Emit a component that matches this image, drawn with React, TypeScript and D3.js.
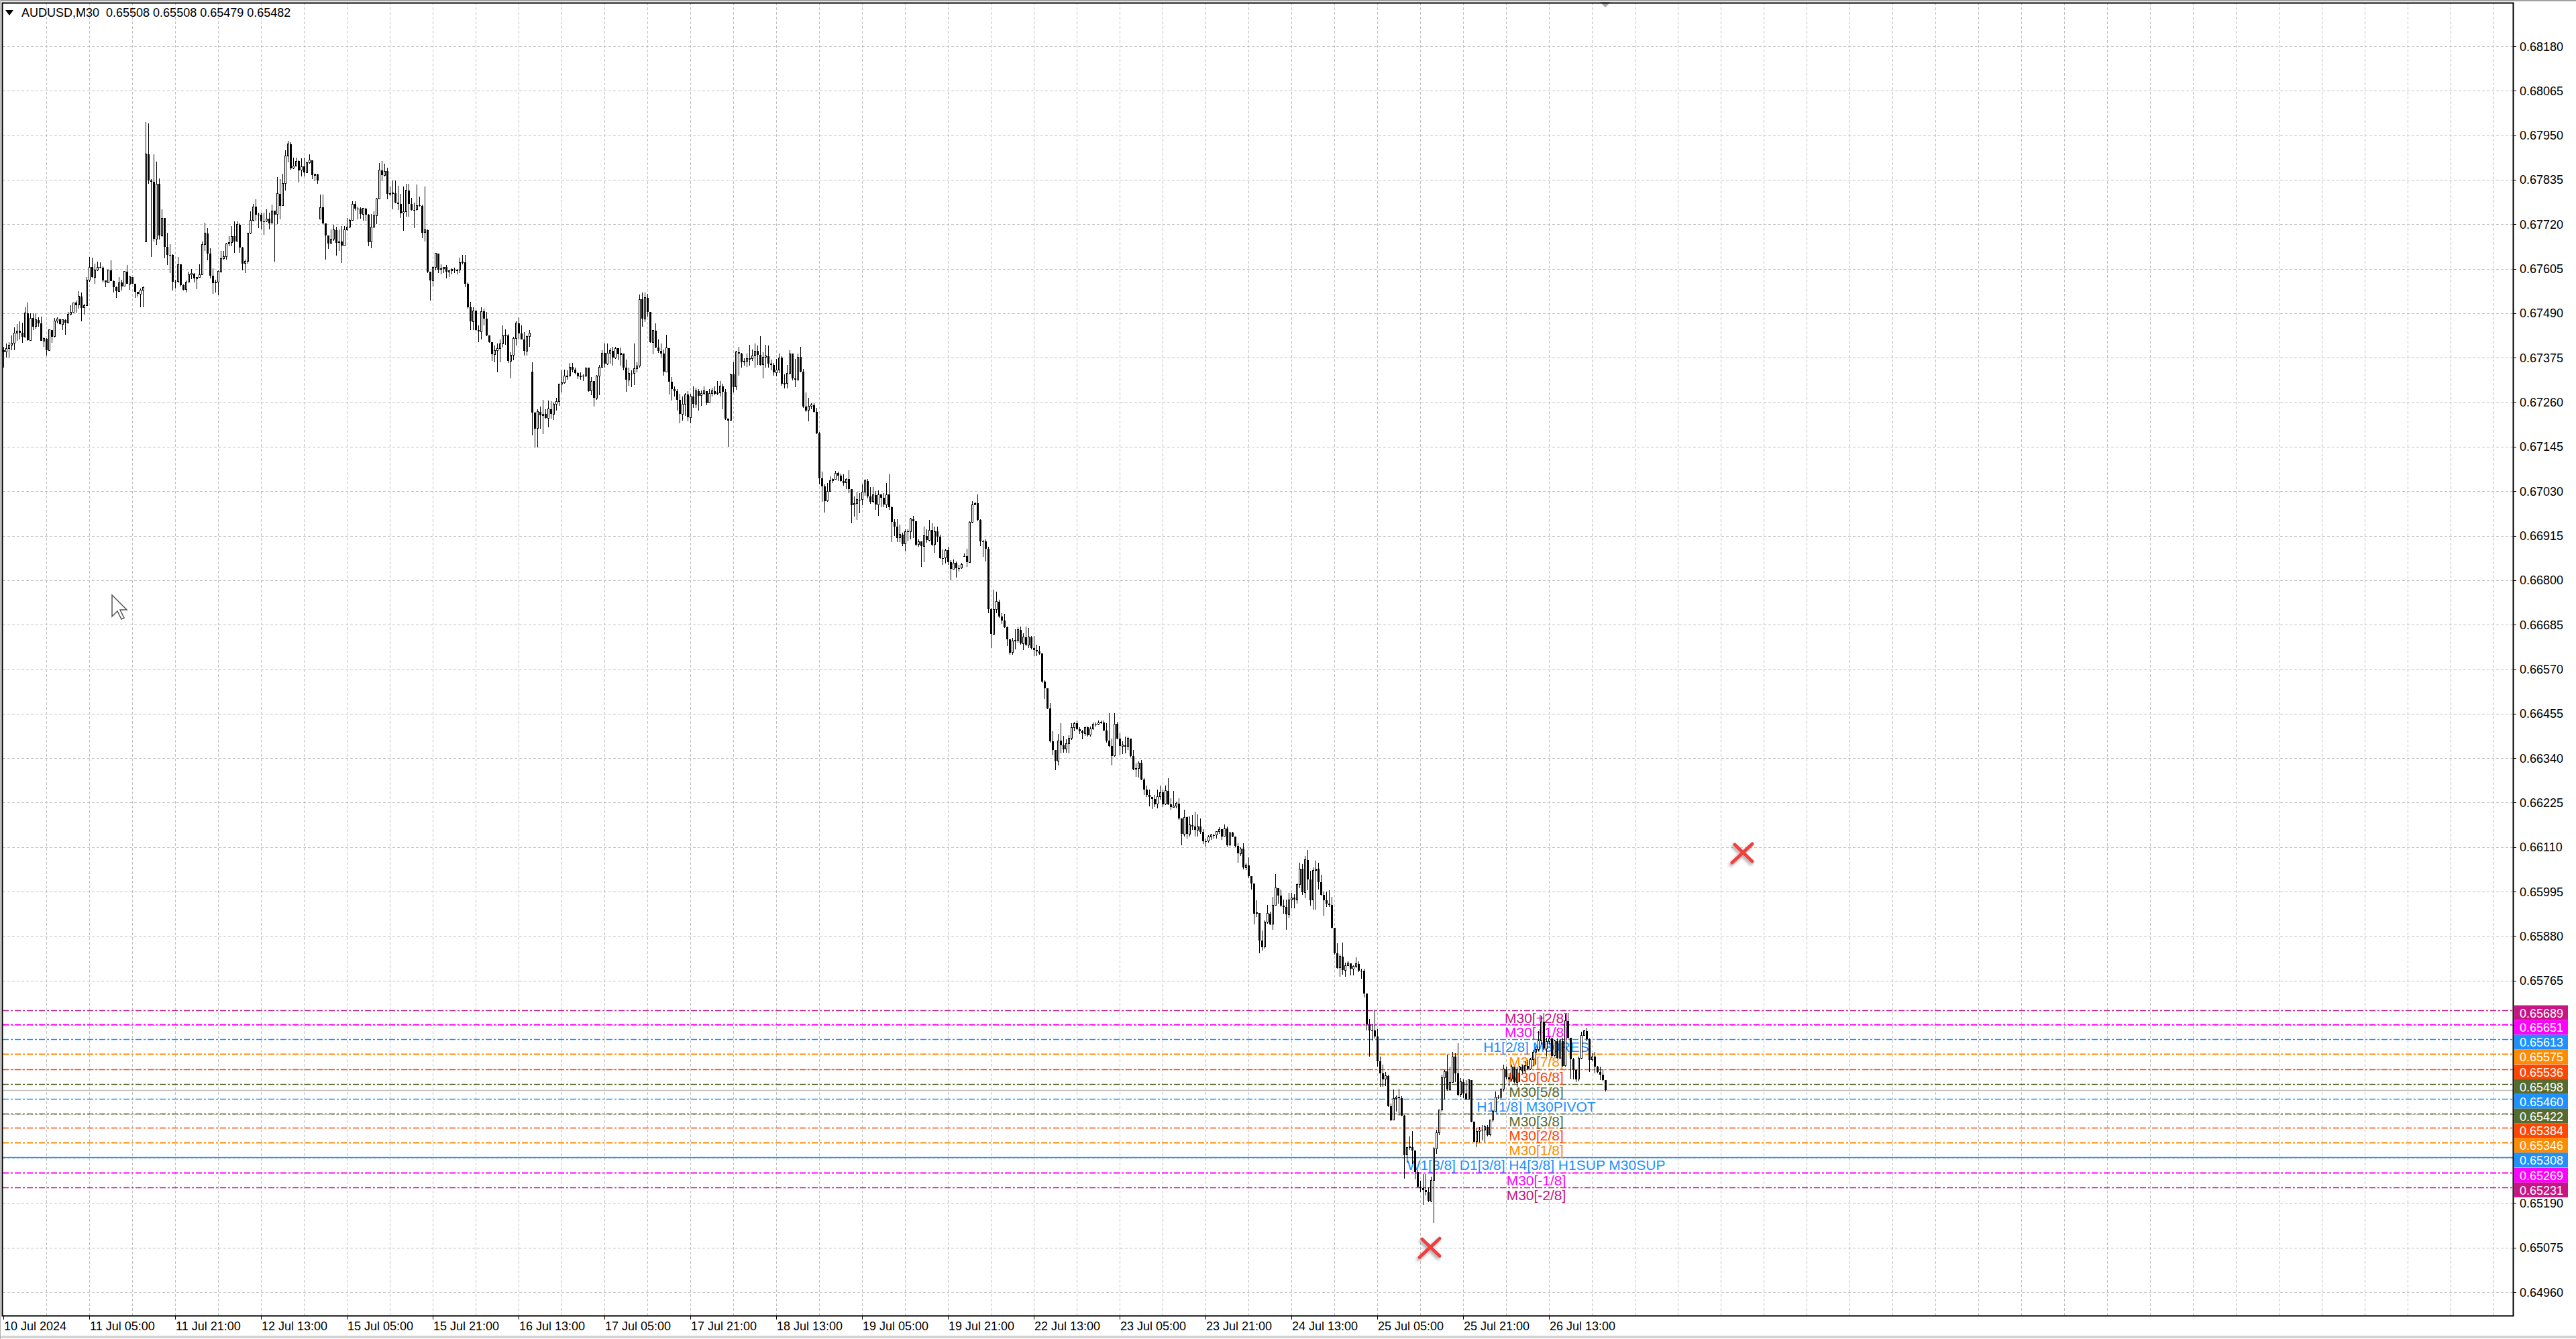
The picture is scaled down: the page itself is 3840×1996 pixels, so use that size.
import * as d3 from "d3";
import { useEffect } from "react";

// AUDUSD M30, 10 Jul 13:00 .. 26 Jul 23:30 (prices in points, 1e-5)
const closes = [
  67390, 67398, 67407, 67413, 67439, 67444, 67439, 67429, 67490, 67420,
  67477, 67456, 67473, 67463, 67418, 67424, 67394, 67447, 67430, 67470,
  67475, 67462, 67473, 67465, 67488, 67492, 67517, 67511, 67534, 67504,
  67509, 67575, 67609, 67583, 67601, 67609, 67607, 67575, 67569, 67601,
  67573, 67557, 67547, 67569, 67560, 67598, 67566, 67584, 67567, 67546,
  67540, 67550, 67557, 67901, 67834, 67830, 67682, 67824, 67691, 67736,
  67662, 67641, 67641, 67572, 67572, 67616, 67562, 67551, 67571, 67590,
  67593, 67580, 67582, 67590, 67667, 67697, 67645, 67587, 67568, 67571,
  67599, 67631, 67636, 67669, 67672, 67689, 67676, 67719, 67659, 67619,
  67624, 67697, 67730, 67765, 67745, 67745, 67728, 67728, 67734, 67723,
  67755, 67745, 67799, 67768, 67825, 67897, 67927, 67865, 67871, 67883,
  67860, 67869, 67854, 67880, 67886, 67847, 67849, 67834, 67763, 67723,
  67691, 67671, 67681, 67705, 67672, 67675, 67665, 67706, 67713, 67730,
  67772, 67761, 67760, 67746, 67761, 67745, 67674, 67713, 67742, 67785,
  67860, 67847, 67857, 67799, 67800, 67801, 67776, 67772, 67749, 67753,
  67808, 67772, 67757, 67757, 67769, 67768, 67698, 67705, 67597, 67574,
  67609, 67645, 67603, 67606, 67609, 67597, 67600, 67603, 67600, 67602,
  67620, 67622, 67567, 67505, 67469, 67496, 67447, 67443, 67495, 67476,
  67433, 67415, 67384, 67393, 67399, 67411, 67431, 67433, 67366, 67382,
  67425, 67464, 67438, 67423, 67392, 67430, 67438, 67234, 67192, 67235,
  67226, 67229, 67219, 67242, 67229, 67255, 67262, 67307, 67310, 67327,
  67328, 67351, 67344, 67336, 67327, 67328, 67327, 67349, 67289, 67314,
  67271, 67328, 67351, 67387, 67359, 67387, 67393, 67375, 67399, 67384,
  67386, 67350, 67318, 67334, 67334, 67346, 67354, 67526, 67476, 67530,
  67494, 67415, 67445, 67402, 67393, 67386, 67339, 67400, 67313, 67294,
  67289, 67267, 67229, 67255, 67280, 67221, 67275, 67255, 67289, 67277,
  67282, 67289, 67258, 67282, 67289, 67282, 67285, 67301, 67287, 67217,
  67213, 67332, 67300, 67390, 67385, 67364, 67366, 67372, 67373, 67379,
  67392, 67382, 67357, 67377, 67379, 67359, 67357, 67337, 67343, 67375,
  67308, 67309, 67334, 67385, 67321, 67318, 67377, 67339, 67249, 67239,
  67249, 67253, 67235, 67179, 67064, 67042, 67005, 67030, 67057, 67061,
  67077, 67070, 67057, 67052, 67061, 67035, 66994, 66999, 67008, 67008,
  67028, 67057, 67016, 67003, 67020, 66995, 67021, 67013, 66995, 67021,
  66989, 66950, 66939, 66909, 66918, 66894, 66926, 66926, 66958, 66952,
  66892, 66900, 66888, 66915, 66903, 66929, 66892, 66926, 66913, 66857,
  66857, 66877, 66846, 66829, 66844, 66831, 66831, 66840, 66863, 66846,
  66950, 66995, 66999, 66955, 66901, 66901, 66881, 66725, 66661, 66724,
  66745, 66706, 66696, 66679, 66648, 66613, 66642, 66644, 66672, 66636,
  66653, 66633, 66653, 66624, 66620, 66616, 66611, 66538, 66521, 66469,
  66383, 66361, 66333, 66385, 66374, 66363, 66377, 66391, 66420, 66430,
  66415, 66409, 66404, 66420, 66400, 66415, 66428, 66428, 66432, 66433,
  66411, 66385, 66371, 66346, 66428, 66391, 66371, 66374, 66370, 66391,
  66346, 66311, 66314, 66328, 66285, 66259, 66245, 66239, 66235, 66221,
  66240, 66251, 66221, 66256, 66221, 66213, 66216, 66223, 66184, 66144,
  66187, 66144, 66167, 66164, 66154, 66163, 66150, 66126, 66126, 66137,
  66141, 66141, 66150, 66156, 66138, 66158, 66115, 66147, 66137, 66113,
  66094, 66106, 66057, 66063, 66035, 66016, 65938, 65940, 65869, 65852,
  65917, 65938, 65911, 65960, 66004, 65984, 65958, 65956, 65936, 65974,
  65979, 65974, 66013, 66054, 65993, 66077, 66026, 65973, 66049, 66054,
  66020, 65986, 65973, 65964, 65961, 65901, 65835, 65798, 65827, 65792,
  65803, 65810, 65795, 65801, 65808, 65790, 65790, 65732, 65652, 65637,
  65637, 65621, 65556, 65525, 65510, 65519, 65441, 65404, 65461, 65464,
  65461, 65416, 65314, 65334, 65335, 65326, 65271, 65233, 65229, 65224,
  65219, 65195, 65249, 65331, 65372, 65430, 65514, 65530, 65483, 65502,
  65568, 65525, 65470, 65503, 65474, 65458, 65508, 65401, 65349, 65375,
  65379, 65379, 65387, 65366, 65404, 65427, 65464, 65464, 65484, 65536,
  65515, 65510, 65542, 65502, 65534, 65542, 65531, 65545, 65537, 65560,
  65580, 65586, 65609, 65658, 65589, 65607, 65615, 65571, 65609, 65565,
  65609, 65545, 65661, 65617, 65562, 65534, 65510, 65565, 65623, 65635,
  65613, 65560, 65568, 65542, 65528, 65522, 65508, 65482,
];

const highs = [
  67404, 67412, 67416, 67432, 67453, 67462, 67469, 67465, 67505, 67518,
  67490, 67490, 67490, 67479, 67482, 67428, 67425, 67449, 67447, 67478,
  67479, 67476, 67475, 67475, 67494, 67511, 67518, 67523, 67547, 67543,
  67514, 67583, 67635, 67634, 67618, 67624, 67621, 67611, 67575, 67603,
  67627, 67575, 67559, 67583, 67577, 67599, 67615, 67586, 67583, 67563,
  67546, 67554, 67560, 67984, 67980, 67836, 67901, 67882, 67838, 67759,
  67736, 67698, 67669, 67643, 67577, 67636, 67617, 67564, 67574, 67597,
  67605, 67594, 67584, 67617, 67675, 67724, 67710, 67658, 67606, 67577,
  67601, 67652, 67652, 67672, 67690, 67715, 67727, 67728, 67723, 67662,
  67629, 67698, 67753, 67773, 67785, 67750, 67750, 67750, 67759, 67750,
  67771, 67755, 67842, 67837, 67851, 67912, 67935, 67932, 67892, 67892,
  67886, 67890, 67892, 67882, 67901, 67886, 67851, 67851, 67797, 67797,
  67721, 67690, 67707, 67719, 67713, 67707, 67716, 67716, 67736, 67734,
  67779, 67779, 67765, 67763, 67762, 67762, 67746, 67746, 67753, 67788,
  67879, 67884, 67876, 67867, 67817, 67834, 67834, 67819, 67799, 67817,
  67825, 67825, 67788, 67776, 67823, 67792, 67771, 67817, 67707, 67595,
  67611, 67646, 67644, 67617, 67610, 67615, 67601, 67606, 67607, 67605,
  67634, 67641, 67641, 67570, 67519, 67505, 67497, 67458, 67505, 67502,
  67494, 67431, 67415, 67406, 67411, 67422, 67459, 67449, 67436, 67390,
  67429, 67469, 67479, 67458, 67442, 67433, 67447, 67363, 67235, 67242,
  67249, 67267, 67242, 67264, 67262, 67260, 67271, 67308, 67343, 67344,
  67343, 67361, 67361, 67350, 67337, 67337, 67332, 67350, 67350, 67325,
  67315, 67330, 67356, 67395, 67411, 67411, 67399, 67404, 67404, 67399,
  67402, 67384, 67370, 67350, 67343, 67411, 67363, 67538, 67544, 67543,
  67541, 67494, 67447, 67464, 67422, 67411, 67397, 67435, 67400, 67325,
  67301, 67294, 67282, 67275, 67284, 67289, 67282, 67301, 67298, 67294,
  67291, 67301, 67285, 67294, 67298, 67301, 67315, 67314, 67307, 67294,
  67217, 67334, 67364, 67393, 67404, 67387, 67373, 67386, 67408, 67397,
  67411, 67406, 67431, 67390, 67408, 67406, 67370, 67361, 67372, 67386,
  67379, 67332, 67357, 67395, 67375, 67372, 67386, 67404, 67346, 67285,
  67271, 67258, 67260, 67246, 67183, 67080, 67047, 67052, 67068, 67064,
  67083, 67080, 67075, 67073, 67064, 67084, 67035, 67016, 67028, 67026,
  67048, 67061, 67061, 67041, 67041, 67030, 67032, 67021, 67026, 67051,
  67073, 66991, 66958, 66957, 66944, 66922, 66932, 66931, 66961, 66967,
  66952, 66905, 66900, 66938, 66932, 66955, 66948, 66938, 66938, 66918,
  66879, 66881, 66886, 66851, 66853, 66849, 66840, 66844, 66869, 66881,
  66952, 67004, 67003, 67021, 66957, 66903, 66905, 66886, 66728, 66775,
  66771, 66749, 66715, 66713, 66680, 66648, 66650, 66674, 66679, 66680,
  66663, 66680, 66676, 66655, 66655, 66633, 66629, 66610, 66541, 66521,
  66482, 66409, 66361, 66403, 66430, 66397, 66389, 66400, 66430, 66434,
  66437, 66420, 66413, 66421, 66421, 66421, 66432, 66432, 66437, 66437,
  66437, 66430, 66456, 66391, 66456, 66434, 66404, 66383, 66396, 66396,
  66385, 66361, 66327, 66331, 66335, 66288, 66270, 66258, 66240, 66245,
  66259, 66270, 66259, 66270, 66288, 66236, 66256, 66227, 66236, 66184,
  66207, 66189, 66189, 66193, 66201, 66195, 66184, 66156, 66132, 66141,
  66145, 66145, 66152, 66161, 66150, 66169, 66163, 66149, 66150, 66138,
  66120, 66109, 66120, 66068, 66083, 66035, 66016, 65973, 65940, 65895,
  65920, 65960, 65943, 65981, 66040, 65993, 66001, 65974, 65974, 65991,
  65991, 65989, 66016, 66069, 66066, 66087, 66102, 66049, 66057, 66075,
  66069, 66038, 65996, 65996, 65998, 65981, 65901, 65862, 65832, 65863,
  65812, 65815, 65808, 65805, 65825, 65815, 65795, 65796, 65729, 65666,
  65652, 65690, 65640, 65569, 65548, 65528, 65522, 65447, 65484, 65468,
  65486, 65467, 65418, 65335, 65363, 65376, 65326, 65276, 65247, 65265,
  65266, 65230, 65259, 65334, 65380, 65432, 65522, 65534, 65574, 65542,
  65580, 65577, 65603, 65513, 65510, 65508, 65510, 65508, 65401, 65383,
  65386, 65391, 65392, 65392, 65406, 65432, 65479, 65470, 65487, 65548,
  65542, 65525, 65548, 65539, 65542, 65545, 65548, 65557, 65560, 65565,
  65586, 65594, 65635, 65675, 65681, 65617, 65620, 65617, 65612, 65615,
  65613, 65617, 65678, 65681, 65617, 65565, 65536, 65568, 65632, 65638,
  65643, 65615, 65577, 65580, 65545, 65542, 65536, 65508,
];

const lows = [
  67349, 67376, 67376, 67395, 67395, 67418, 67423, 67414, 67430, 67418,
  67418, 67446, 67450, 67456, 67418, 67404, 67381, 67394, 67414, 67428,
  67463, 67460, 67447, 67434, 67465, 67484, 67491, 67492, 67502, 67469,
  67486, 67509, 67572, 67582, 67566, 67599, 67606, 67569, 67557, 67569,
  67573, 67543, 67529, 67547, 67549, 67560, 67566, 67550, 67566, 67529,
  67534, 67505, 67505, 67675, 67825, 67636, 67675, 67667, 67681, 67688,
  67632, 67615, 67594, 67548, 67554, 67568, 67560, 67548, 67543, 67571,
  67578, 67570, 67553, 67581, 67591, 67652, 67626, 67580, 67541, 67543,
  67537, 67594, 67629, 67628, 67664, 67664, 67646, 67675, 67646, 67600,
  67594, 67619, 67695, 67728, 67730, 67710, 67707, 67693, 67726, 67707,
  67724, 67623, 67720, 67733, 67768, 67808, 67880, 67861, 67863, 67871,
  67828, 67843, 67843, 67854, 67877, 67836, 67831, 67825, 67732, 67721,
  67629, 67657, 67668, 67678, 67639, 67652, 67620, 67664, 67704, 67710,
  67730, 67756, 67733, 67734, 67730, 67730, 67664, 67658, 67710, 67721,
  67785, 67831, 67843, 67785, 67794, 67759, 67774, 67757, 67736, 67704,
  67739, 67739, 67756, 67710, 67756, 67765, 67684, 67675, 67594, 67522,
  67560, 67600, 67594, 67591, 67594, 67580, 67583, 67591, 67594, 67591,
  67594, 67617, 67557, 67502, 67447, 67447, 67445, 67415, 67423, 67458,
  67431, 67413, 67366, 67364, 67337, 67364, 67402, 67409, 67361, 67321,
  67368, 67406, 67422, 67422, 67380, 67380, 67404, 67174, 67143, 67143,
  67192, 67177, 67217, 67195, 67217, 67215, 67239, 67251, 67285, 67308,
  67318, 67328, 67337, 67332, 67320, 67318, 67315, 67325, 67287, 67278,
  67249, 67267, 67278, 67349, 67350, 67357, 67359, 67354, 67372, 67368,
  67354, 67343, 67287, 67303, 67300, 67305, 67337, 67350, 67456, 67467,
  67481, 67413, 67384, 67400, 67387, 67375, 67328, 67339, 67280, 67264,
  67275, 67239, 67206, 67213, 67224, 67210, 67206, 67246, 67246, 67239,
  67251, 67278, 67253, 67262, 67275, 67278, 67278, 67275, 67242, 67215,
  67145, 67213, 67285, 67292, 67328, 67350, 67354, 67351, 67354, 67366,
  67350, 67357, 67354, 67321, 67350, 67350, 67343, 67328, 67327, 67336,
  67303, 67296, 67296, 67332, 67316, 67300, 67318, 67337, 67246, 67235,
  67210, 67242, 67233, 67177, 67048, 67003, 66975, 67003, 67028, 67052,
  67071, 67057, 67055, 67044, 67035, 67026, 66947, 66965, 66955, 66973,
  66994, 67019, 67012, 66998, 67000, 66981, 66967, 66989, 66989, 66987,
  66981, 66898, 66915, 66898, 66898, 66889, 66875, 66900, 66905, 66909,
  66889, 66886, 66834, 66846, 66896, 66900, 66889, 66870, 66898, 66855,
  66840, 66843, 66840, 66800, 66827, 66806, 66823, 66829, 66860, 66834,
  66844, 66948, 66995, 66952, 66889, 66860, 66849, 66715, 66624, 66661,
  66715, 66702, 66687, 66676, 66629, 66607, 66607, 66622, 66639, 66633,
  66620, 66630, 66624, 66622, 66604, 66603, 66607, 66534, 66492, 66466,
  66380, 66348, 66309, 66322, 66353, 66354, 66354, 66353, 66387, 66409,
  66413, 66403, 66389, 66397, 66396, 66396, 66413, 66421, 66426, 66428,
  66409, 66380, 66368, 66322, 66344, 66389, 66348, 66351, 66353, 66361,
  66342, 66309, 66292, 66290, 66283, 66245, 66240, 66216, 66208, 66213,
  66210, 66232, 66214, 66219, 66219, 66207, 66213, 66210, 66180, 66115,
  66138, 66132, 66137, 66154, 66138, 66137, 66145, 66119, 66111, 66121,
  66128, 66132, 66132, 66145, 66128, 66137, 66111, 66113, 66135, 66109,
  66069, 66087, 66052, 66050, 66029, 66000, 65911, 65930, 65835, 65843,
  65848, 65912, 65908, 65897, 65958, 65964, 65956, 65938, 65896, 65928,
  65951, 65951, 65964, 66004, 65986, 65978, 65998, 65958, 65949, 65948,
  66001, 65984, 65933, 65955, 65956, 65899, 65833, 65796, 65775, 65781,
  65775, 65802, 65779, 65779, 65798, 65787, 65769, 65721, 65637, 65569,
  65611, 65616, 65542, 65490, 65491, 65493, 65438, 65402, 65406, 65427,
  65416, 65415, 65253, 65294, 65328, 65291, 65252, 65230, 65219, 65185,
  65210, 65193, 65193, 65139, 65317, 65366, 65427, 65457, 65480, 65480,
  65502, 65502, 65467, 65464, 65461, 65457, 65457, 65398, 65346, 65334,
  65347, 65352, 65347, 65363, 65363, 65398, 65426, 65460, 65458, 65479,
  65510, 65493, 65505, 65499, 65490, 65502, 65525, 65525, 65534, 65534,
  65545, 65548, 65583, 65600, 65586, 65568, 65600, 65565, 65568, 65563,
  65564, 65542, 65542, 65615, 65512, 65510, 65503, 65505, 65562, 65622,
  65609, 65528, 65557, 65525, 65525, 65508, 65505, 65479,
];

// bars whose open is not the previous close: [bar, open]
const gapOpens: [number, number][] = [
  [0, 67395], [53, 67675], [118, 67733], [197, 67339], [358, 66863],
];

const timeLabels = [
  "10 Jul 2024", "11 Jul 05:00", "11 Jul 21:00", "12 Jul 13:00", "15 Jul 05:00",
  "15 Jul 21:00", "16 Jul 13:00", "17 Jul 05:00", "17 Jul 21:00", "18 Jul 13:00",
  "19 Jul 05:00", "19 Jul 21:00", "22 Jul 13:00", "23 Jul 05:00", "23 Jul 21:00",
  "24 Jul 13:00", "25 Jul 05:00", "25 Jul 21:00", "26 Jul 13:00",
];

const priceTicks = [
  "0.68180", "0.68065", "0.67950", "0.67835", "0.67720", "0.67605", "0.67490",
  "0.67375", "0.67260", "0.67145", "0.67030", "0.66915", "0.66800", "0.66685",
  "0.66570", "0.66455", "0.66340", "0.66225", "0.66110", "0.65995", "0.65880",
  "0.65765", "0.65650", "0.65535", "0.65420", "0.65305", "0.65190", "0.65075",
  "0.64960",
];

// Murrey math levels
const levelPrices = [
  0.65689, 0.65651, 0.65613, 0.65575, 0.65536, 0.65498, 0.6546,
  0.65422, 0.65384, 0.65346, 0.65308, 0.65269, 0.65231,
];
const levelNames = [
  "M30[+2/8]", "M30[+1/8]", "H1[2/8] M30RES", "M30[7/8]", "M30[6/8]",
  "M30[5/8]", "H1[1/8] M30PIVOT", "M30[3/8]", "M30[2/8]", "M30[1/8]",
  "W1[3/8] D1[3/8] H4[3/8] H1SUP M30SUP", "M30[-1/8]", "M30[-2/8]",
];
const levelColors = [
  "#C71585", "#FF00FF", "#1E90FF", "#FF8C00", "#FF4500", "#556B2F", "#1E90FF",
  "#556B2F", "#FF4500", "#FF8C00", "#1E90FF", "#FF00FF", "#C71585",
];

const bidPrice = 0.65482;
const titleText = "AUDUSD,M30  0.65508 0.65508 0.65479 0.65482";
// red cross markers: [bar, price]
const crosses: [number, number][] = [[648, 0.66094], [531.5, 0.65074]];

const W = 3840;
const H = 1996;
const plot = { left: 4, right: 3746, top: 4, bottom: 1961 };
const FONT = "'Liberation Sans', Arial, sans-serif";

const y = d3.scaleLinear().domain([0.6496, 0.6818]).range([1926, 69]);
const x = d3.scaleLinear().domain([0, 1]).range([5, 9]);

const gapMap = new Map(gapOpens);
const bars = closes.map((c, i) => {
  const o = gapMap.get(i) ?? (i > 0 ? closes[i - 1] : c);
  const h = Math.max(highs[i], o, c);
  const l = Math.min(lows[i], o, c);
  return { i, o: o / 1e5, h: h / 1e5, l: l / 1e5, c: c / 1e5 };
});

const crisp = (v: number) => Math.round(v) + 0.5;

export default function App() {
  useEffect(() => {
    document.body.style.margin = "0";
  }, []);

  const vGrid = d3.range(16, 1000, 16).map((b) => x(b)).filter((v) => v < plot.right - 2);
  const lastX = x(bars.length - 1);

  return (
    <svg width={W} height={H} style={{ display: "block", background: "#fff" }} fontFamily={FONT}>
      <defs>
        <filter id="xshadow" x="-50%" y="-50%" width="200%" height="200%">
          <feDropShadow dx="-2" dy="3" stdDeviation="2" floodColor="#000" floodOpacity="0.35" />
        </filter>
      </defs>
      <rect x={0} y={0} width={W} height={H} fill="#fff" />
      <line x1={0} x2={W} y1={1} y2={1} stroke="#a0a0a0" strokeWidth={2} />
      <line x1={0} x2={W} y1={1993} y2={1993} stroke="#d4d4d4" strokeWidth={4} />
      <line x1={0.5} x2={0.5} y1={0} y2={H} stroke="#b0b0b0" strokeWidth={1} />

      {/* grid */}
      <g stroke="#c0c0c0" strokeWidth={1} strokeDasharray="4 3" shapeRendering="crispEdges">
        {vGrid.map((gx) => (
          <line key={`v${gx}`} x1={crisp(gx)} x2={crisp(gx)} y1={plot.top} y2={plot.bottom} />
        ))}
        {priceTicks.map((t) => (
          <line key={`h${t}`} x1={plot.left} x2={plot.right} y1={crisp(y(+t))} y2={crisp(y(+t))} />
        ))}
      </g>

      {/* level lines */}
      {levelPrices.map((p, k) => {
        const solid = levelNames[k].includes("SUP");
        const thick = levelColors[k] === "#FF00FF" || levelColors[k] === "#FF8C00";
        return (
          <line
            key={`l${k}`}
            x1={plot.left}
            x2={plot.right}
            y1={crisp(y(p))}
            y2={crisp(y(p))}
            stroke={levelColors[k]}
            strokeWidth={solid ? 1.5 : thick ? 2 : 1.3}
            strokeDasharray={solid ? undefined : "9 3 3 3"}
          />
        );
      })}
      <line x1={plot.left} x2={plot.right} y1={crisp(y(bidPrice))} y2={crisp(y(bidPrice))} stroke="#c0c0c0" strokeWidth={1.5} />

      {/* level names */}
      {levelPrices.map((p, k) => (
        <text key={`n${k}`} x={2290} y={y(p) + 19} fontSize={21} fill={levelColors[k]} textAnchor="middle">
          {levelNames[k]}
        </text>
      ))}

      {/* candles */}
      <g shapeRendering="crispEdges">
        {bars.map((b) => {
          const cx = Math.round(x(b.i));
          const up = b.c > b.o;
          const top = y(Math.max(b.o, b.c));
          const bot = y(Math.min(b.o, b.c));
          return (
            <g key={b.i}>
              <line x1={cx + 0.5} x2={cx + 0.5} y1={y(b.h)} y2={y(b.l)} stroke="#000" strokeWidth={1} />
              {up ? (
                <rect x={cx - 0.5} y={top} width={2} height={Math.max(bot - top, 1)} fill="#fff" stroke="#000" strokeWidth={1} />
              ) : (
                <rect x={cx - 1} y={top} width={3} height={Math.max(bot - top, 1)} fill="#000" />
              )}
            </g>
          );
        })}
      </g>

      {/* crosses */}
      {crosses.map(([bi, p], k) => {
        const cx = x(bi);
        const cy = y(p);
        return (
          <g key={`x${k}`} stroke="#ef4040" strokeWidth={5} strokeLinecap="round" filter="url(#xshadow)">
            <line x1={cx - 11} y1={cy - 13} x2={cx + 15} y2={cy + 12} />
            <line x1={cx + 15} y1={cy - 14} x2={cx - 15} y2={cy + 14} />
          </g>
        );
      })}

      {/* mouse cursor */}
      <path
        d="M167 887 L167 919 L175 911 L181 923 L185 921 L179 909 L189 909 Z"
        fill="#fff"
        stroke="#555"
        strokeWidth={1.5}
      />

      {/* chart shift marker */}
      <path d={`M${lastX - 8} 3 L${lastX + 8} 3 L${lastX} 11 Z`} fill="#a8a8a8" />

      {/* frame */}
      <rect
        x={plot.left - 0.5}
        y={plot.top + 0.5}
        width={plot.right - plot.left + 1}
        height={plot.bottom - plot.top}
        fill="none"
        stroke="#000"
        strokeWidth={2}
      />

      {/* price axis */}
      {priceTicks.map((t) => (
        <g key={`t${t}`}>
          <line x1={plot.right} x2={plot.right + 5} y1={crisp(y(+t))} y2={crisp(y(+t))} stroke="#000" />
          <text x={3756} y={y(+t) + 6.5} fontSize={18} fill="#000">
            {t}
          </text>
        </g>
      ))}
      {levelPrices.map((p, k) => (
        <g key={`b${k}`}>
          <rect x={3748} y={y(p) - 7} width={80} height={22} fill={levelColors[k]} />
          <text x={3756} y={y(p) + 11} fontSize={18} fill="#fff">
            {p.toFixed(5)}
          </text>
        </g>
      ))}

      {/* time axis */}
      {timeLabels.map((t, k) => {
        const tx = Math.round(x(32 * k));
        return (
          <g key={`tl${k}`}>
            <line x1={tx + 0.5} x2={tx + 0.5} y1={plot.bottom} y2={plot.bottom + 6} stroke="#000" />
            <text x={tx + 1} y={1983} fontSize={18} fill="#000">
              {t}
            </text>
          </g>
        );
      })}

      {/* title */}
      <path d="M8 15 L20 15 L14 23 Z" fill="#000" />
      <text x={32} y={25} fontSize={18} fill="#000" style={{ whiteSpace: "pre" }}>
        {titleText}
      </text>
    </svg>
  );
}
